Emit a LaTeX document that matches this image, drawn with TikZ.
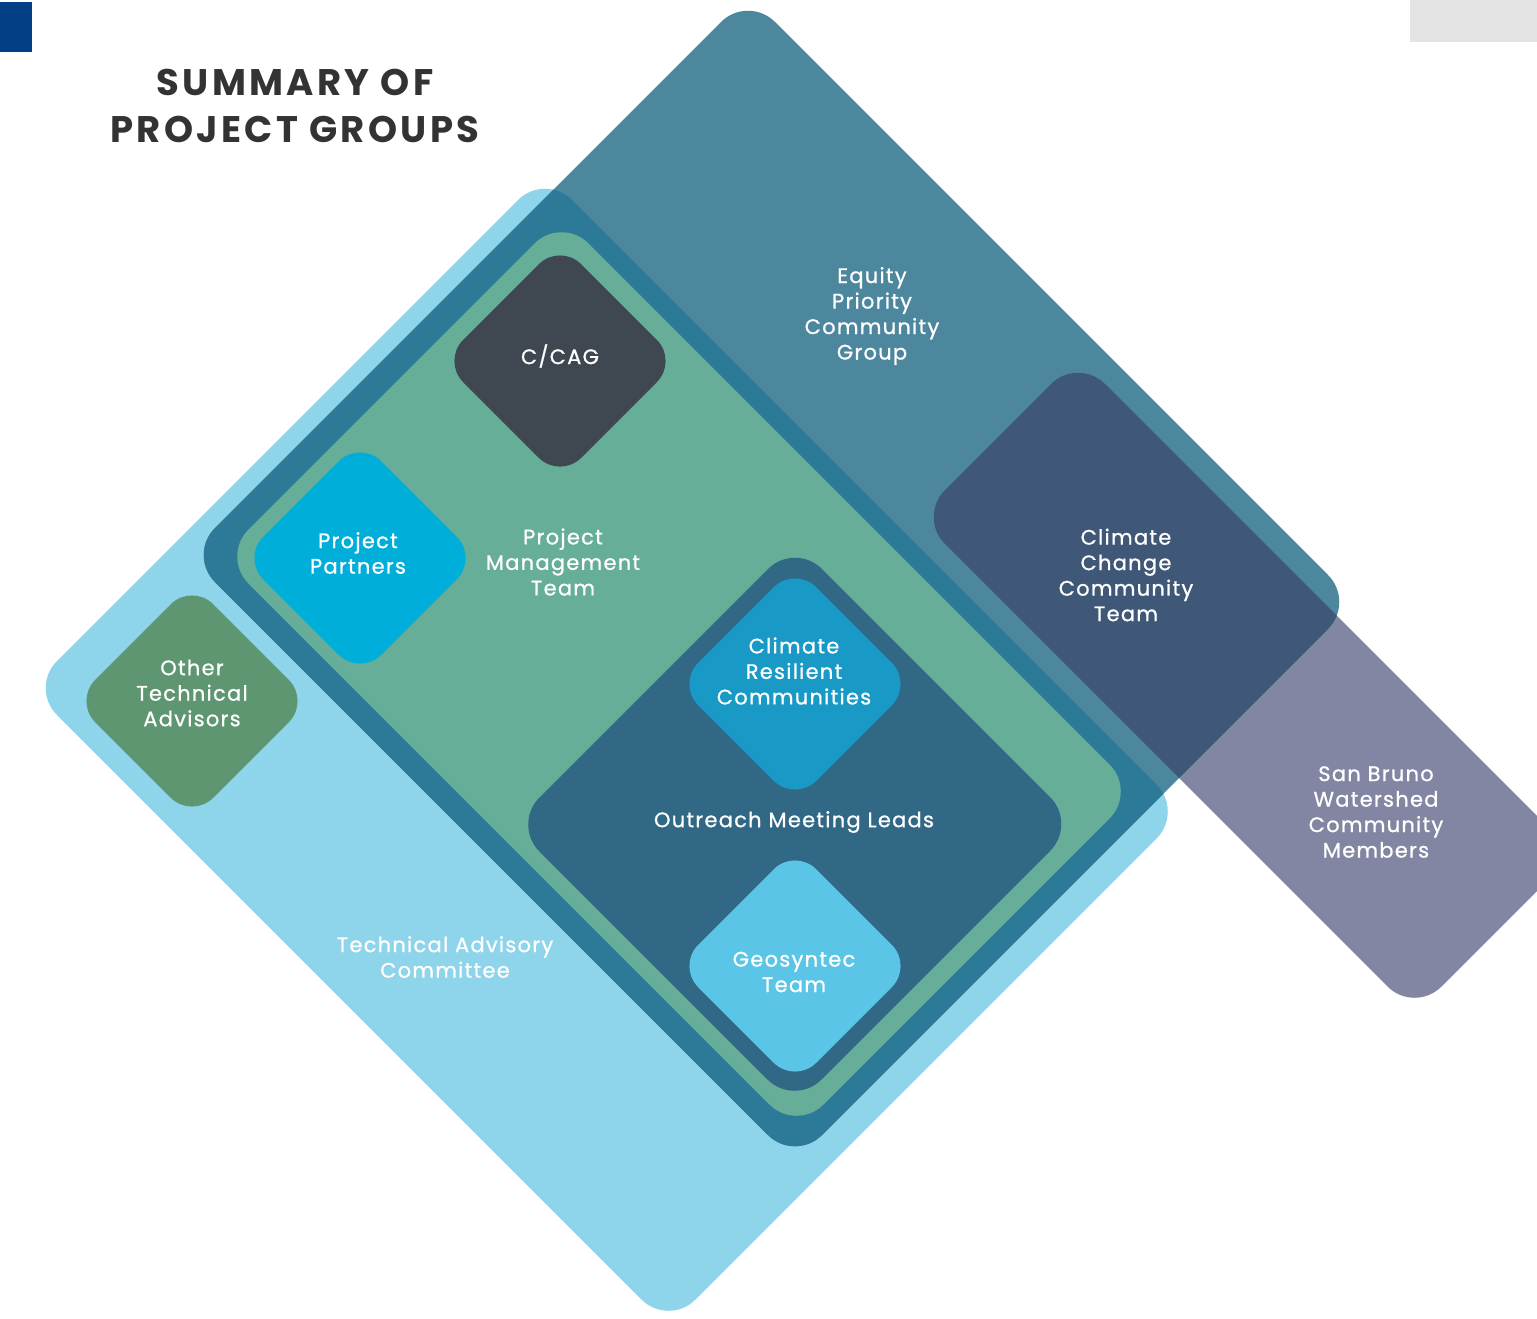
\documentclass[tikz,border=0pt]{standalone}
\usepackage{fontspec}
\setmainfont{Poppins}
\definecolor{tacc}{HTML}{8ED5EC}
\definecolor{eqc}{HTML}{4D879E}
\definecolor{eqtac}{HTML}{2C7A97}
\definecolor{pmtc}{HTML}{66AE98}
\definecolor{omlc}{HTML}{306885}
\definecolor{crcc}{HTML}{1899C6}
\definecolor{geoc}{HTML}{5AC5E6}
\definecolor{ccagc}{HTML}{3F4751}
\definecolor{ppc}{HTML}{00AEDA}
\definecolor{otac}{HTML}{5E9672}
\definecolor{sbwc}{HTML}{8386A2}
\definecolor{eqsb}{HTML}{3F5878}
\definecolor{titlec}{HTML}{333333}
\definecolor{cornerblue}{HTML}{023F87}
\definecolor{cornergray}{HTML}{E4E4E4}
% rounded rotated rectangle in (u,v) = (x+y, y-x) coordinates
\newcommand\rrect[4]{({(#1+#2)/2},#3) -- (#2,#3) -- (#2,#4) -- (#1,#4) -- (#1,#3) -- cycle}
\begin{document}
\begin{tikzpicture}[x=1pt,y=-1pt,
  uv/.style={x={(0.5pt,-0.5pt)},y={(-0.5pt,-0.5pt)}},
  lbl/.style={text=white, align=center, inner sep=0pt,
    font=\fontsize{21}{25.5}\selectfont\addfontfeatures{LetterSpace=6,FakeBold=0.8}},
  big/.style={rounded corners=38pt},
  small/.style={rounded corners=30pt}]
\fill[white] (0,0) rectangle (1537,1318);
\useasboundingbox (0,0) rectangle (1537,1318);
\fill[cornerblue] (0,2) rectangle (32,52);
\fill[cornergray] (1410,0) rectangle (1537,42);
\node[text=titlec, font=\bfseries\fontsize{37}{47}\selectfont\addfontfeatures{LetterSpace=9}, align=center, inner sep=0pt] (title) at (295,106) {SUMMARY OF\\PROJECT GROUPS};
\begin{scope}[uv]
  \fill[sbwc, big] \rrect{1435}{2428}{-721}{-401};
  \fill[tacc, big] \rrect{718}{1995}{-372}{658};
  \fill[eqc, big] \rrect{743}{1957}{-753}{367};
  \begin{scope}
    \clip[big] \rrect{743}{1957}{-753}{367};
    \fill[eqtac, big] \rrect{718}{1995}{-372}{658};
    \fill[eqsb, big] \rrect{1435}{2428}{-721}{-401};
  \end{scope}
  \fill[pmtc, big] \rrect{778}{1928}{-345}{335};
  \fill[omlc, big] \rrect{1337}{1901}{-253}{312};
  \fill[crcc, small] \rrect{1361}{1597}{-229}{7};
  \fill[geoc, small] \rrect{1643}{1879}{53}{289};
  \fill[ccagc, small] \rrect{803}{1039}{-317}{-81};
  \fill[ppc, small] \rrect{800}{1036}{80}{316};
  \fill[otac, small] \rrect{775}{1011}{391}{627};
\end{scope}
\node[lbl] (eq) at (872,316) {Equity\\Priority\\Community\\Group};
\node[lbl] (pmt) at (563,562) {Project\\Management\\Team};
\node[lbl] (cct) at (1126,575) {Climate\\Change\\Community\\Team};
\node[lbl] (sbw) at (1376,812) {San Bruno\\Watershed\\Community\\Members};
\node[lbl] (tac) at (445,957) {Technical Advisory\\Committee};
\node[lbl] (oml) at (794,822) {Outreach Meeting Leads};
\node[lbl] (crc) at (794,671) {Climate\\Resilient\\Communities};
\node[lbl] (geo) at (794,972) {Geosyntec\\Team};
\node[lbl] (ccag) at (560,356) {C/CAG};
\node[lbl] (pp) at (358,553) {Project\\Partners};
\node[lbl] (ota) at (192,693) {Other\\Technical\\Advisors};
\end{tikzpicture}
\end{document}
